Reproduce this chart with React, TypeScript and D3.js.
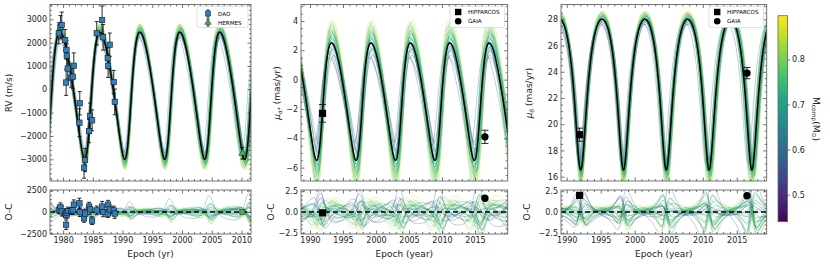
import React, { useEffect, useRef } from 'react';
import * as d3 from 'd3';

const FONT = 'DejaVu Sans, sans-serif';

// DAO radial velocities: epoch (yr), RV (m/s), error, O-C
const daoEpoch = [1979.28, 1979.56, 1979.78, 1980.34, 1980.51, 1980.57, 1980.62, 1980.79, 1981.35, 1981.63, 1981.8,
  1982.75, 1982.81, 1983.53, 1983.7, 1984.37, 1984.54, 1984.88, 1985.66, 1986.56, 1986.73, 1987.51, 1987.57,
  1987.85, 1988.52, 1988.69];
const daoRv = [2400, 2660, 2760, 2110, 290, 1690, 1440, 890, 490, 540, 1010, -1430, -600, -3360, -3030, -1790,
  -1140, -1330, 2400, 2970, 2230, 1330, 1010, 1910, 310, -540];
const daoErr = [450, 500, 550, 450, 550, 400, 500, 450, 400, 500, 550, 600, 500, 450, 500, 500, 550, 450, 500, 600,
  550, 450, 500, 500, 500, 550];
const daoRes = [260, 560, 80, -185, -1480, -370, -100, 120, 110, 200, 850, 1000, -20, -740, -185, 630, 300, -1000,
  185, 630, 0, -185, 850, 300, 185, -185];

// HERMES
const hermesEpoch = [2010.15];
const hermesRv = [-2740];
const hermesErr = [250];
const hermesRes = [0];

// Hipparcos / Gaia proper motions
const astroEpoch = [1991.9, 2016.5];
const pmaObs = [-2.3, -3.9];
const pmaErr = [0.6, 0.45];
const pmaRes = [-0.1, 1.65];
const pmdObs = [19.2, 23.9];
const pmdErr = [0.5, 0.43];
const pmdRes = [2.0, 1.95];

// best-fit orbit per panel: period (yr), periastron (yr), e, omega (deg), K, offset
const rvOrbit = [6.72, 1984.4, 0.22, 240, 2725, 25];
const pmaOrbit = [5.97, 1991.68, 0.22, 240, 4, -1.06];
const pmdOrbit = [6.29, 1992.06, 0.3, 180, 5.75, 23.98];

// posterior draws: companion mass and offsets from the best fit
const sampleMass = [0.72, 0.68, 0.75, 0.66, 0.8, 0.63, 0.7, 0.78, 0.58, 0.74, 0.69, 0.83, 0.65, 0.71, 0.77, 0.55,
  0.73, 0.67, 0.86, 0.62, 0.76, 0.7, 0.52, 0.79, 0.64, 0.81, 0.69, 0.74];
const sampleDk = [0.08, 0.02, 0.12, -0.04, 0.18, -0.06, 0.05, 0.15, -0.1, 0.1, 0.03, 0.2, -0.02, 0.06, 0.13, -0.12,
  0.09, 0.0, 0.22, -0.08, 0.11, 0.04, -0.14, 0.16, -0.05, 0.19, 0.01, 0.07];
const sampleDt = [0.05, -0.12, 0.1, -0.2, 0.02, 0.15, -0.06, 0.08, -0.25, 0.12, -0.02, -0.1, 0.2, 0.0, -0.15, 0.28,
  0.06, -0.08, 0.14, -0.18, 0.03, 0.09, -0.3, -0.04, 0.22, 0.11, -0.14, 0.17];
const sampleDp = [0.003, -0.004, 0.002, 0.006, -0.002, -0.005, 0.001, 0.004, -0.007, 0.0, 0.005, -0.003, 0.002,
  -0.001, 0.006, -0.006, 0.003, -0.002, 0.004, 0.007, -0.004, 0.001, 0.008, -0.005, 0.002, 0.0, -0.003, 0.005];

const massDomain = [0.44, 0.897];
const massTicks = [0.5, 0.6, 0.7, 0.8];

function orbitAt(t, o, dk = 0, dt = 0, dp = 0) {
  const [P0, T0, e, w, K0, g] = o;
  const P = P0 * (1 + dp);
  const M = (2 * Math.PI * (t - T0 - dt)) / P;
  let E = M;
  for (let i = 0; i < 10; i += 1) E -= (E - e * Math.sin(E) - M) / (1 - e * Math.cos(E));
  const nu = 2 * Math.atan2(Math.sqrt(1 + e) * Math.sin(E / 2), Math.sqrt(1 - e) * Math.cos(E / 2));
  const wr = (w * Math.PI) / 180;
  return g + K0 * (1 + dk) * (Math.cos(nu + wr) + e * Math.cos(wr));
}

function styleAxis(s) {
  s.select('.domain').remove();
  s.selectAll('line').attr('stroke', '#333').attr('stroke-width', 0.7);
  s.selectAll('text').attr('font-size', 8).attr('fill', '#222').attr('font-family', FONT);
  return s;
}

function drawFrame(g, x, y, o) {
  const [xa, xb] = x.range();
  const [yb, ya] = y.range();
  const none = () => '';
  const put = (axis, tx, ty) => styleAxis(g.append('g').attr('transform', `translate(${tx},${ty})`).call(axis));
  put(d3.axisBottom(x).tickValues(o.xMajor).tickSize(-3.5).tickPadding(3)
    .tickFormat(o.showX ? d3.format('d') : none), 0, yb);
  put(d3.axisBottom(x).tickValues(o.xMinor).tickSize(-2).tickFormat(none), 0, yb);
  put(d3.axisTop(x).tickValues(o.xMajor).tickSize(-3.5).tickFormat(none), 0, ya);
  put(d3.axisTop(x).tickValues(o.xMinor).tickSize(-2).tickFormat(none), 0, ya);
  put(d3.axisLeft(y).tickValues(o.yMajor).tickSize(-3.5).tickPadding(3).tickFormat(o.yFmt), xa, 0);
  put(d3.axisLeft(y).tickValues(o.yMinor).tickSize(-2).tickFormat(none), xa, 0);
  put(d3.axisRight(y).tickValues(o.yMajor).tickSize(-3.5).tickFormat(none), xb, 0);
  put(d3.axisRight(y).tickValues(o.yMinor).tickSize(-2).tickFormat(none), xb, 0);
  g.append('rect').attr('x', xa).attr('y', ya).attr('width', xb - xa).attr('height', yb - ya)
    .attr('fill', 'none').attr('stroke', '#666').attr('stroke-width', 0.9);
}

function minors(lo, hi, step, major) {
  return d3.range(Math.ceil(lo / step) * step, hi, step).filter((v) => Math.abs(v / major - Math.round(v / major)) > 1e-6);
}

function errBars(g, pts, cap) {
  pts.forEach(([cx, y1, y2]) => {
    g.append('line').attr('x1', cx).attr('x2', cx).attr('y1', y1).attr('y2', y2)
      .attr('stroke', '#111').attr('stroke-width', 0.9);
    [y1, y2].forEach((yy) => g.append('line').attr('x1', cx - cap).attr('x2', cx + cap).attr('y1', yy).attr('y2', yy)
      .attr('stroke', '#111').attr('stroke-width', 0.9));
  });
}

export default function App() {
  const ref = useRef(null);

  useEffect(() => {
    const svg = d3.select(ref.current);
    svg.selectAll('*').remove();
    const color = d3.scaleSequential(d3.interpolateViridis).domain(massDomain);
    const topRange = [181, 4.5];
    const resRange = [234, 190];

    const panels = [
      {
        id: 'rv', xr: [50, 251], xd: [1977.8, 2011.6], yd: [-3930, 3634], rd: [-2550, 2550], orbit: rvOrbit,
        spread: [0.7, 0.8, 2], yMajor: d3.range(-3000, 3001, 1000), yMinorStep: 200, yMajorStep: 1000,
        rMajor: [-2500, 0, 2500], rMinorStep: 500, rMajorStep: 2500, yFmt: d3.format('d'), rFmt: d3.format('d'),
        xMajor: d3.range(1980, 2011, 5), xLabel: 'Epoch (yr)', yLabelX: 9, ocX: 9,
      },
      {
        id: 'pma', xr: [301, 507.7], xd: [1988.64, 2019.95], yd: [-6.91, 5.12], rd: [-2.65, 2.65], orbit: pmaOrbit,
        spread: [2, 1.3, 1.8], yMajor: d3.range(-6, 5, 2), yMinorStep: 0.5, yMajorStep: 2,
        rMajor: [-2.5, 0, 2.5], rMinorStep: 0.5, rMajorStep: 2.5, yFmt: d3.format('d'), rFmt: d3.format('.1f'),
        xMajor: d3.range(1990, 2016, 5), xLabel: 'Epoch (year)', yLabelX: 277, ocX: 271,
      },
      {
        id: 'pmd', xr: [561, 766.7], xd: [1989.16, 2019.4], yd: [15.67, 29.13], rd: [-2.65, 2.65], orbit: pmdOrbit,
        spread: [0.7, 1.0, 2], yMajor: d3.range(16, 29, 2), yMinorStep: 0.5, yMajorStep: 2,
        rMajor: [-2.5, 0, 2.5], rMinorStep: 0.5, rMajorStep: 2.5, yFmt: d3.format('d'), rFmt: d3.format('.1f'),
        xMajor: d3.range(1990, 2016, 5), xLabel: 'Epoch (year)', yLabelX: 529, ocX: 527,
      },
    ];

    const defs = svg.append('defs');

    panels.forEach((p) => {
      const x = d3.scaleLinear().domain(p.xd).range(p.xr);
      const y = d3.scaleLinear().domain(p.yd).range(topRange);
      const r = d3.scaleLinear().domain(p.rd).range(resRange);
      const grid = d3.range(p.xd[0] - 0.1, p.xd[1] + 0.1, 0.02);
      const [ks, ts, ps] = p.spread;

      ['top', 'res'].forEach((k) => {
        const yy = k === 'top' ? topRange : resRange;
        defs.append('clipPath').attr('id', `clip-${p.id}-${k}`).append('rect')
          .attr('x', p.xr[0]).attr('y', yy[1]).attr('width', p.xr[1] - p.xr[0]).attr('height', yy[0] - yy[1]);
      });

      const top = svg.append('g');
      const topPlot = top.append('g').attr('clip-path', `url(#clip-${p.id}-top)`);
      const res = svg.append('g');
      const resPlot = res.append('g').attr('clip-path', `url(#clip-${p.id}-res)`);

      sampleMass.forEach((m, i) => {
        const args = [sampleDk[i] * ks, sampleDt[i] * ts, sampleDp[i] * ps];
        const f = (t) => orbitAt(t, p.orbit, ...args);
        topPlot.append('path').datum(grid)
          .attr('d', d3.line().x((t) => x(t)).y((t) => y(f(t))))
          .attr('fill', 'none').attr('stroke', color(m)).attr('stroke-width', 0.9).attr('stroke-opacity', 0.35);
        resPlot.append('path').datum(grid)
          .attr('d', d3.line().x((t) => x(t)).y((t) => r(f(t) - orbitAt(t, p.orbit))))
          .attr('fill', 'none').attr('stroke', color(m)).attr('stroke-width', 0.9).attr('stroke-opacity', 0.35);
      });

      topPlot.append('path').datum(grid)
        .attr('d', d3.line().x((t) => x(t)).y((t) => y(orbitAt(t, p.orbit))))
        .attr('fill', 'none').attr('stroke', '#000').attr('stroke-width', 1.5);
      resPlot.append('line').attr('x1', p.xr[0]).attr('x2', p.xr[1]).attr('y1', r(0)).attr('y2', r(0))
        .attr('stroke', '#000').attr('stroke-width', 1.3).attr('stroke-dasharray', '5,3');

      const xMinor = minors(p.xd[0], p.xd[1], 1, 5);
      drawFrame(top, x, y, {
        xMajor: p.xMajor, xMinor, yMajor: p.yMajor, yMinor: minors(p.yd[0], p.yd[1], p.yMinorStep, p.yMajorStep),
        yFmt: p.yFmt, showX: false,
      });
      drawFrame(res, x, r, {
        xMajor: p.xMajor, xMinor, yMajor: p.rMajor, yMinor: minors(p.rd[0], p.rd[1], p.rMinorStep, p.rMajorStep),
        yFmt: p.rFmt, showX: true,
      });

      // data
      if (p.id === 'rv') {
        errBars(top, daoEpoch.map((t, i) => [x(t), y(daoRv[i] - daoErr[i]), y(daoRv[i] + daoErr[i])]), 2);
        errBars(res, daoEpoch.map((t, i) => [x(t), r(daoRes[i] - daoErr[i]), r(daoRes[i] + daoErr[i])]), 2);
        errBars(top, hermesEpoch.map((t, i) => [x(t), y(hermesRv[i] - hermesErr[i]), y(hermesRv[i] + hermesErr[i])]), 2);
        [[top, y, daoRv], [res, r, daoRes]].forEach(([gg, sc, vals]) => {
          gg.selectAll(null).data(daoEpoch).enter().append('rect')
            .attr('x', (t) => x(t) - 2.7).attr('y', (t, i) => sc(vals[i]) - 2.7).attr('width', 5.4).attr('height', 5.4)
            .attr('fill', '#2f7fc1').attr('stroke', '#1a1a1a').attr('stroke-width', 0.6);
        });
        top.selectAll(null).data(hermesEpoch).enter().append('path')
          .attr('d', d3.symbol(d3.symbolTriangle, 22))
          .attr('transform', (t, i) => `translate(${x(t)},${y(hermesRv[i])})`)
          .attr('fill', '#4caf50').attr('stroke', '#1a1a1a').attr('stroke-width', 0.5);
        res.selectAll(null).data(hermesEpoch).enter().append('rect')
          .attr('x', (t) => x(t) - 2.5).attr('y', (t, i) => r(hermesRes[i]) - 2.5).attr('width', 5).attr('height', 5)
          .attr('fill', '#4caf50').attr('stroke', '#1a1a1a').attr('stroke-width', 0.5);
      } else {
        const obs = p.id === 'pma' ? pmaObs : pmdObs;
        const err = p.id === 'pma' ? pmaErr : pmdErr;
        const rs = p.id === 'pma' ? pmaRes : pmdRes;
        errBars(top, astroEpoch.map((t, i) => [x(t), y(obs[i] - err[i]), y(obs[i] + err[i])]), 3.5);
        [[top, y, obs], [res, r, rs]].forEach(([gg, sc, vals]) => {
          gg.append('rect').attr('x', x(astroEpoch[0]) - 3.6).attr('y', sc(vals[0]) - 3.6)
            .attr('width', 7.2).attr('height', 7.2).attr('fill', '#000');
          gg.append('circle').attr('cx', x(astroEpoch[1])).attr('cy', sc(vals[1])).attr('r', 3.7).attr('fill', '#000');
        });
      }

      // labels
      svg.append('text').attr('x', (p.xr[0] + p.xr[1]) / 2).attr('y', 257).attr('text-anchor', 'middle')
        .attr('font-size', 9).attr('font-family', FONT).attr('fill', '#222').text(p.xLabel);
      const yl = svg.append('text').attr('transform', `translate(${p.yLabelX},93) rotate(-90)`)
        .attr('text-anchor', 'middle').attr('dominant-baseline', 'middle')
        .attr('font-size', 9).attr('font-family', FONT).attr('fill', '#222');
      if (p.id === 'rv') yl.text('RV (m/s)');
      else {
        yl.append('tspan').attr('font-style', 'italic').text('μ');
        yl.append('tspan').attr('font-size', 6).attr('dy', 2.5).attr('font-style', 'italic')
          .text(p.id === 'pma' ? 'α*' : 'δ');
        yl.append('tspan').attr('dy', -2.5).text(' (mas/yr)');
      }
      svg.append('text').attr('transform', `translate(${p.ocX},212) rotate(-90)`)
        .attr('text-anchor', 'middle').attr('dominant-baseline', 'middle')
        .attr('font-size', 9).attr('font-family', FONT).attr('fill', '#222').text('O-C');

      // legends
      const lg = svg.append('g');
      const fs = 5.6;
      if (p.id === 'rv') {
        lg.append('rect').attr('x', 197).attr('y', 6.5).attr('width', 51).attr('height', 21).attr('rx', 1.5)
          .attr('fill', '#fff').attr('stroke', '#ccc').attr('stroke-width', 0.6);
        errBars(lg, [[208, 10, 17]], 1.5);
        lg.append('rect').attr('x', 205.5).attr('y', 11).attr('width', 5).attr('height', 5)
          .attr('fill', '#2f7fc1').attr('stroke', '#1a1a1a').attr('stroke-width', 0.5);
        errBars(lg, [[208, 19, 26]], 1.5);
        lg.append('path').attr('d', d3.symbol(d3.symbolTriangle, 18)).attr('transform', 'translate(208,22.5)')
          .attr('fill', '#4caf50').attr('stroke', '#1a1a1a').attr('stroke-width', 0.5);
        lg.append('text').attr('x', 218).attr('y', 15.5).attr('font-size', fs).attr('font-family', FONT).text('DAO');
        lg.append('text').attr('x', 218).attr('y', 24.5).attr('font-size', fs).attr('font-family', FONT).text('HERMES');
      } else {
        const lx = p.id === 'pma' ? 450 : 709;
        lg.append('rect').attr('x', lx).attr('y', 6.5).attr('width', 54.5).attr('height', 21).attr('rx', 1.5)
          .attr('fill', '#fff').attr('stroke', '#ccc').attr('stroke-width', 0.6);
        lg.append('rect').attr('x', lx + 5).attr('y', 8.8).attr('width', 6.4).attr('height', 6.4).attr('fill', '#000');
        lg.append('circle').attr('cx', lx + 8.2).attr('cy', 21.2).attr('r', 3.3).attr('fill', '#000');
        lg.append('text').attr('x', lx + 18).attr('y', 14).attr('font-size', fs).attr('font-family', FONT).text('HIPPARCOS');
        lg.append('text').attr('x', lx + 18).attr('y', 23).attr('font-size', fs).attr('font-family', FONT).text('GAIA');
      }
    });

    // colorbar
    const cb = d3.scaleLinear().domain(massDomain).range([221.7, 15.7]);
    const grad = defs.append('linearGradient').attr('id', 'cbar').attr('x1', 0).attr('x2', 0).attr('y1', 1).attr('y2', 0);
    d3.range(0, 1.001, 0.05).forEach((s) => {
      grad.append('stop').attr('offset', s)
        .attr('stop-color', color(massDomain[0] + s * (massDomain[1] - massDomain[0])));
    });
    svg.append('rect').attr('x', 778).attr('y', 15.7).attr('width', 9.6).attr('height', 206)
      .attr('fill', 'url(#cbar)').attr('stroke', '#666').attr('stroke-width', 0.8);
    styleAxis(svg.append('g').attr('transform', 'translate(787.6,0)')
      .call(d3.axisRight(cb).tickValues(massTicks).tickSize(2.5).tickPadding(2).tickFormat(d3.format('.1f'))));
    const cl = svg.append('text').attr('transform', 'translate(816,119) rotate(90)')
      .attr('text-anchor', 'middle').attr('dominant-baseline', 'middle')
      .attr('font-size', 9).attr('font-family', FONT).attr('fill', '#222');
    cl.append('tspan').text('M');
    cl.append('tspan').attr('font-size', 6).attr('dy', 2.5).text('comp');
    cl.append('tspan').attr('dy', -2.5).text('(M');
    cl.append('tspan').attr('font-size', 6).attr('dy', 2.5).text('⊙');
    cl.append('tspan').attr('dy', -2.5).text(')');
  }, []);

  return (
    <svg ref={ref} width={830} height={264}
      style={{ position: 'absolute', left: 0, top: 0, background: '#fff' }} />
  );
}
